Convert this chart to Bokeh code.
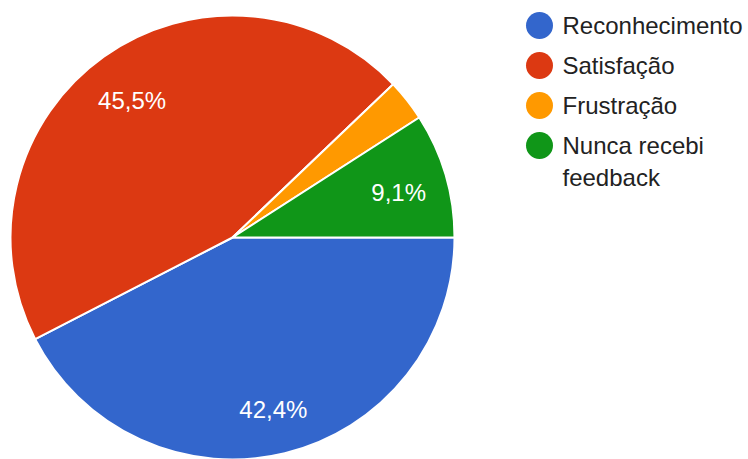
import math
import textwrap
from bokeh.plotting import figure
from bokeh.models import Range1d, ColumnDataSource
from bokeh.core.properties import value
from bokeh.embed import file_html
from bokeh.resources import INLINE

categories = ["Reconhecimento", "Satisfação", "Frustração", "Nunca recebi feedback"]
counts = [14, 15, 1, 3]
pct_labels = ["42,4%", "45,5%", "", "9,1%"]
colors = ["#3366cc", "#dc3912", "#ff9900", "#109618"]

W, H = 748, 459
cx, cy, R = 232, H - 237, 222
FONT = "Liberation Sans"

total = sum(counts)
starts, ends, mids = [], [], []
cum = 0.0
for c in counts:
    a0 = -2 * math.pi * cum / total
    cum += c
    a1 = -2 * math.pi * cum / total
    starts.append(a1)
    ends.append(a0)
    mids.append((a0 + a1) / 2)

p = figure(width=W, height=H, output_backend="svg", toolbar_location=None,
           x_range=Range1d(0, W), y_range=Range1d(0, H), min_border=0)
p.axis.visible = False
p.grid.visible = False
p.outline_line_color = None
p.background_fill_color = "white"

src = ColumnDataSource(dict(x=[cx] * len(counts), y=[cy] * len(counts),
                            start=starts, end=ends, color=colors))
p.wedge(x="x", y="y", radius=R, start_angle="start", end_angle="end",
        fill_color="color", line_color="white", line_width=2, source=src)

k = 0.78
lx = [cx + k * R * math.cos(m) for m in mids]
ly = [cy + k * R * math.sin(m) - 4 for m in mids]
p.text(x=lx, y=ly, text=pct_labels, text_color="white", text_font=value(FONT),
       text_font_size="24px", text_align="center", text_baseline="middle")

# legend
lgx, lgy0, step, line_h = 539, H - 25, 40, 32
p.scatter(x=[lgx] * len(categories), y=[lgy0 - step * i for i in range(len(categories))],
          size=27, color=colors, line_color=None)
tx, ty, tt = [], [], []
for i, cat in enumerate(categories):
    for j, line in enumerate(textwrap.wrap(cat, 14)):
        tx.append(lgx + 23)
        ty.append(lgy0 - step * i - line_h * j)
        tt.append(line)
p.text(x=tx, y=ty, text=tt, text_color="#222222", text_font=value(FONT),
       text_font_size="24px", text_align="left", text_baseline="middle")

open("out.html", "w").write(file_html(p, INLINE))
